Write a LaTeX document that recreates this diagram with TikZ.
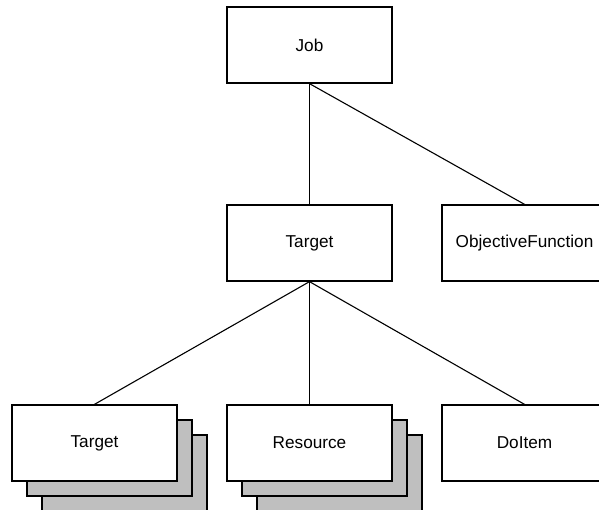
\documentclass[tikz,border=0pt]{standalone}
\usepackage{fontspec}
\setmainfont{Liberation Sans}
\begin{document}
\begin{tikzpicture}[x=1pt,y=-1pt,
  box/.style={draw=black, line width=1.3pt, fill=white, minimum width=165pt,
    minimum height=76pt, inner sep=0pt, font=\fontsize{17.2}{20}\selectfont},
  stackbox/.style={box, fill=gray!50},
  link/.style={draw=black, line width=1.1pt}]
  \useasboundingbox (0,0) rectangle (599,510);
  \clip (0,0) rectangle (599,510);

  % stacked copies behind the multi-valued children
  \node[stackbox] (tgtB) at (124.5,473) {};
  \node[stackbox] (tgtA) at (109.5,458) {};
  \node[stackbox] (resB) at (339.5,473) {};
  \node[stackbox] (resA) at (324.5,458) {};

  \node[box] (job) at (309.5,45) {Job};
  \node[box] (target) at (309.5,243) {Target};
  \node[box] (objfn) at (524.5,243) {ObjectiveFunction};
  \node[box] (subtarget) at (94.5,443) {Target};
  \node[box] (resource) at (309.5,443) {Resource};
  \node[box] (doitem) at (524.5,443) {DoItem};

  \draw[link] (job.south) -- (target.north);
  \draw[link] (job.south) -- (objfn.north);
  \draw[link] (target.south) -- (subtarget.north);
  \draw[link] (target.south) -- (resource.north);
  \draw[link] (target.south) -- (doitem.north);
\end{tikzpicture}
\end{document}
